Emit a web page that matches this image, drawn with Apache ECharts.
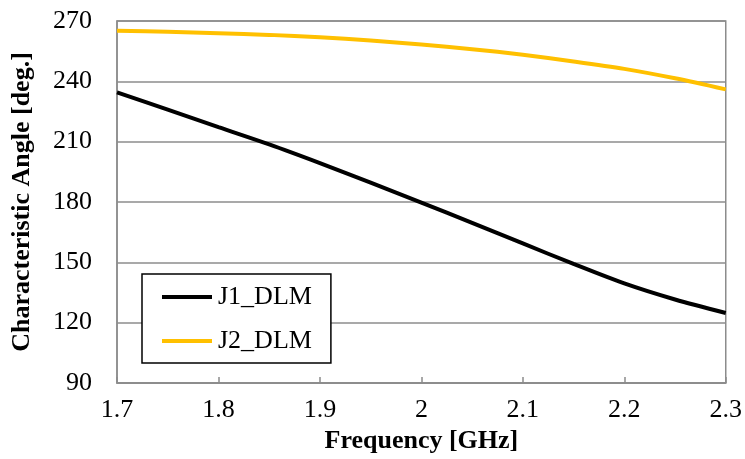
<!DOCTYPE html>
<html>
<head>
<meta charset="utf-8">
<script src="https://cdn.jsdelivr.net/npm/echarts@6/dist/echarts.min.js"></script>
<style>html,body{margin:0;padding:0;background:#fff;}#c{width:745px;height:459px;}</style>
</head>
<body>
<div id="c"></div>
<script>
var freq = [1.70, 1.75, 1.80, 1.85, 1.90, 1.95, 2.00, 2.05, 2.10, 2.15, 2.20, 2.25, 2.30];
var j1 = [234.5, 225.9, 217.2, 208.6, 199.3, 189.6, 179.7, 169.6, 159.4, 149.2, 139.5, 131.5, 124.8];
var j2 = [265.2, 264.6, 263.9, 263.1, 261.9, 260.3, 258.3, 256.0, 253.2, 249.9, 246.2, 241.5, 236.0];
var seriesNames = ['J1_DLM', 'J2_DLM'];
var seriesColors = ['#000000', '#FFC000'];
var xTitle = 'Frequency [GHz]';
var yTitle = 'Characteristic Angle [deg.]';

function pairs(xs, ys) { return xs.map(function (x, i) { return [x, ys[i]]; }); }

var font = "'Liberation Serif', 'Times New Roman', serif";
var chart = echarts.init(document.getElementById('c'), null, { renderer: 'canvas' });
chart.setOption({
  animation: false,
  backgroundColor: '#fff',
  grid: { left: 117, top: 21, right: 18, bottom: 76, show: true, borderColor: '#8c8c8c', borderWidth: 1.5, backgroundColor: 'transparent' },
  legend: {
    orient: 'vertical', left: 142, top: 274,
    data: seriesNames.map(function (n, i) { return { name: n, icon: 'rect', itemStyle: { color: seriesColors[i] } }; }),
    borderColor: '#000', borderWidth: 1.5, backgroundColor: '#fff',
    padding: [10, 19, 9, 20],
    itemWidth: 50, itemHeight: 4, itemGap: 18,
    textStyle: { fontFamily: font, fontSize: 26, color: '#000', padding: [0, 0, 0, 1] }
  },
  xAxis: {
    type: 'value', min: 1.7, max: 2.3, interval: 0.1,
    name: xTitle, nameLocation: 'middle', nameGap: 44,
    nameTextStyle: { fontFamily: font, fontSize: 26, fontWeight: 'bold', color: '#000' },
    axisLine: { show: true, lineStyle: { color: '#8c8c8c', width: 1.5 } },
    axisTick: { show: true, inside: true, length: 6, lineStyle: { color: '#8c8c8c', width: 1.5 } },
    splitLine: { show: false },
    axisLabel: { fontFamily: font, fontSize: 26, color: '#000', margin: 14,
      formatter: function (v) { return String(Math.round(v * 10) / 10); } }
  },
  yAxis: {
    type: 'value', min: 90, max: 270, interval: 30,
    name: yTitle, nameLocation: 'middle', nameGap: 82, nameRotate: 90,
    nameTextStyle: { fontFamily: font, fontSize: 26, fontWeight: 'bold', color: '#000' },
    axisLine: { show: true, lineStyle: { color: '#8c8c8c', width: 1.5 } },
    axisTick: { show: false },
    splitLine: { show: true, lineStyle: { color: '#8c8c8c', width: 1.5 } },
    axisLabel: { fontFamily: font, fontSize: 26, color: '#000', margin: 25 }
  },
  series: [
    { name: seriesNames[0], type: 'line', data: pairs(freq, j1), smooth: 0.3, showSymbol: false, symbol: 'none',
      lineStyle: { color: seriesColors[0], width: 4 }, itemStyle: { color: seriesColors[0] } },
    { name: seriesNames[1], type: 'line', data: pairs(freq, j2), smooth: 0.3, showSymbol: false, symbol: 'none',
      lineStyle: { color: seriesColors[1], width: 4 }, itemStyle: { color: seriesColors[1] } }
  ]
});
</script>
</body>
</html>
